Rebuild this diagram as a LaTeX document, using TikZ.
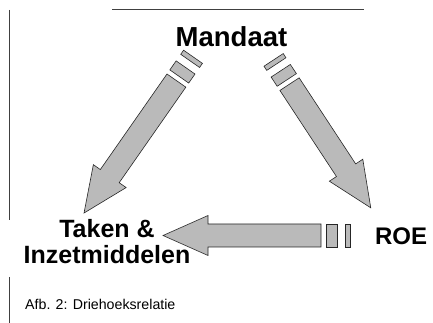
\documentclass[tikz,border=0pt]{standalone}
\usepackage{fontspec}
\setmainfont{Liberation Sans}
\usetikzlibrary{positioning}

\begin{document}
\begin{tikzpicture}[x=1pt, y=1pt,
  corner/.style = {font=\bfseries\fontsize{25}{26}\selectfont, inner sep=0pt},
  rule/.style = {black!75, line width=1.2pt},
  blockfill/.style = {draw=black!85, fill=black!27, line width=0.6pt},
  pics/stripearrow/.style = {code={
    \draw[blockfill] (0,-11.5) rectangle (5,11.5);
    \draw[blockfill] (13,-11.5) rectangle (24,11.5);
    \draw[blockfill] (29,-11.5) -- (#1-45,-11.5) -- (#1-45,-20) -- (#1,0)
      -- (#1-45,20) -- (#1-45,11.5) -- (29,11.5) -- cycle;
  }}
  ]
  \useasboundingbox (0,0) rectangle (433,323);

  % frame lines of the scan
  \draw[rule] (112,313.5) -- (364,313.5);
  \draw[rule, line width=0.8pt] (9,313) -- (9,103);
  \draw[rule, line width=0.8pt] (9,46) -- (9,0);

  % corners of the triangle
  \node (mandaat) [corner, font=\bfseries\fontsize{27.5}{30}\selectfont,
    anchor=base] at (231.5,276) {Mandaat};
  \node (taken) [corner, align=center, anchor=base] at (107,59)
    {Taken \&\\Inzetmiddelen};
  \node (roe) [corner, font=\bfseries\fontsize{24}{26}\selectfont,
    anchor=base] at (401,78) {ROE};
  \node (caption) [inner sep=0pt, anchor=base west,
    font=\fontsize{14.2}{16}\selectfont] at (25,13) {Afb. 2: Driehoeksrelatie};

  % tails of the arrows
  \coordinate (lefttail) at (193,266.2);
  \coordinate (righttail) at (273.6,263.1);
  \coordinate (bottomtail) at (350,87.5);

  \pic[rotate=235.1] at (lefttail) {stripearrow=190.5};
  \pic[rotate=-56.7] at (righttail) {stripearrow=177};
  \pic[rotate=180] at (bottomtail) {stripearrow=187};
\end{tikzpicture}
\end{document}
